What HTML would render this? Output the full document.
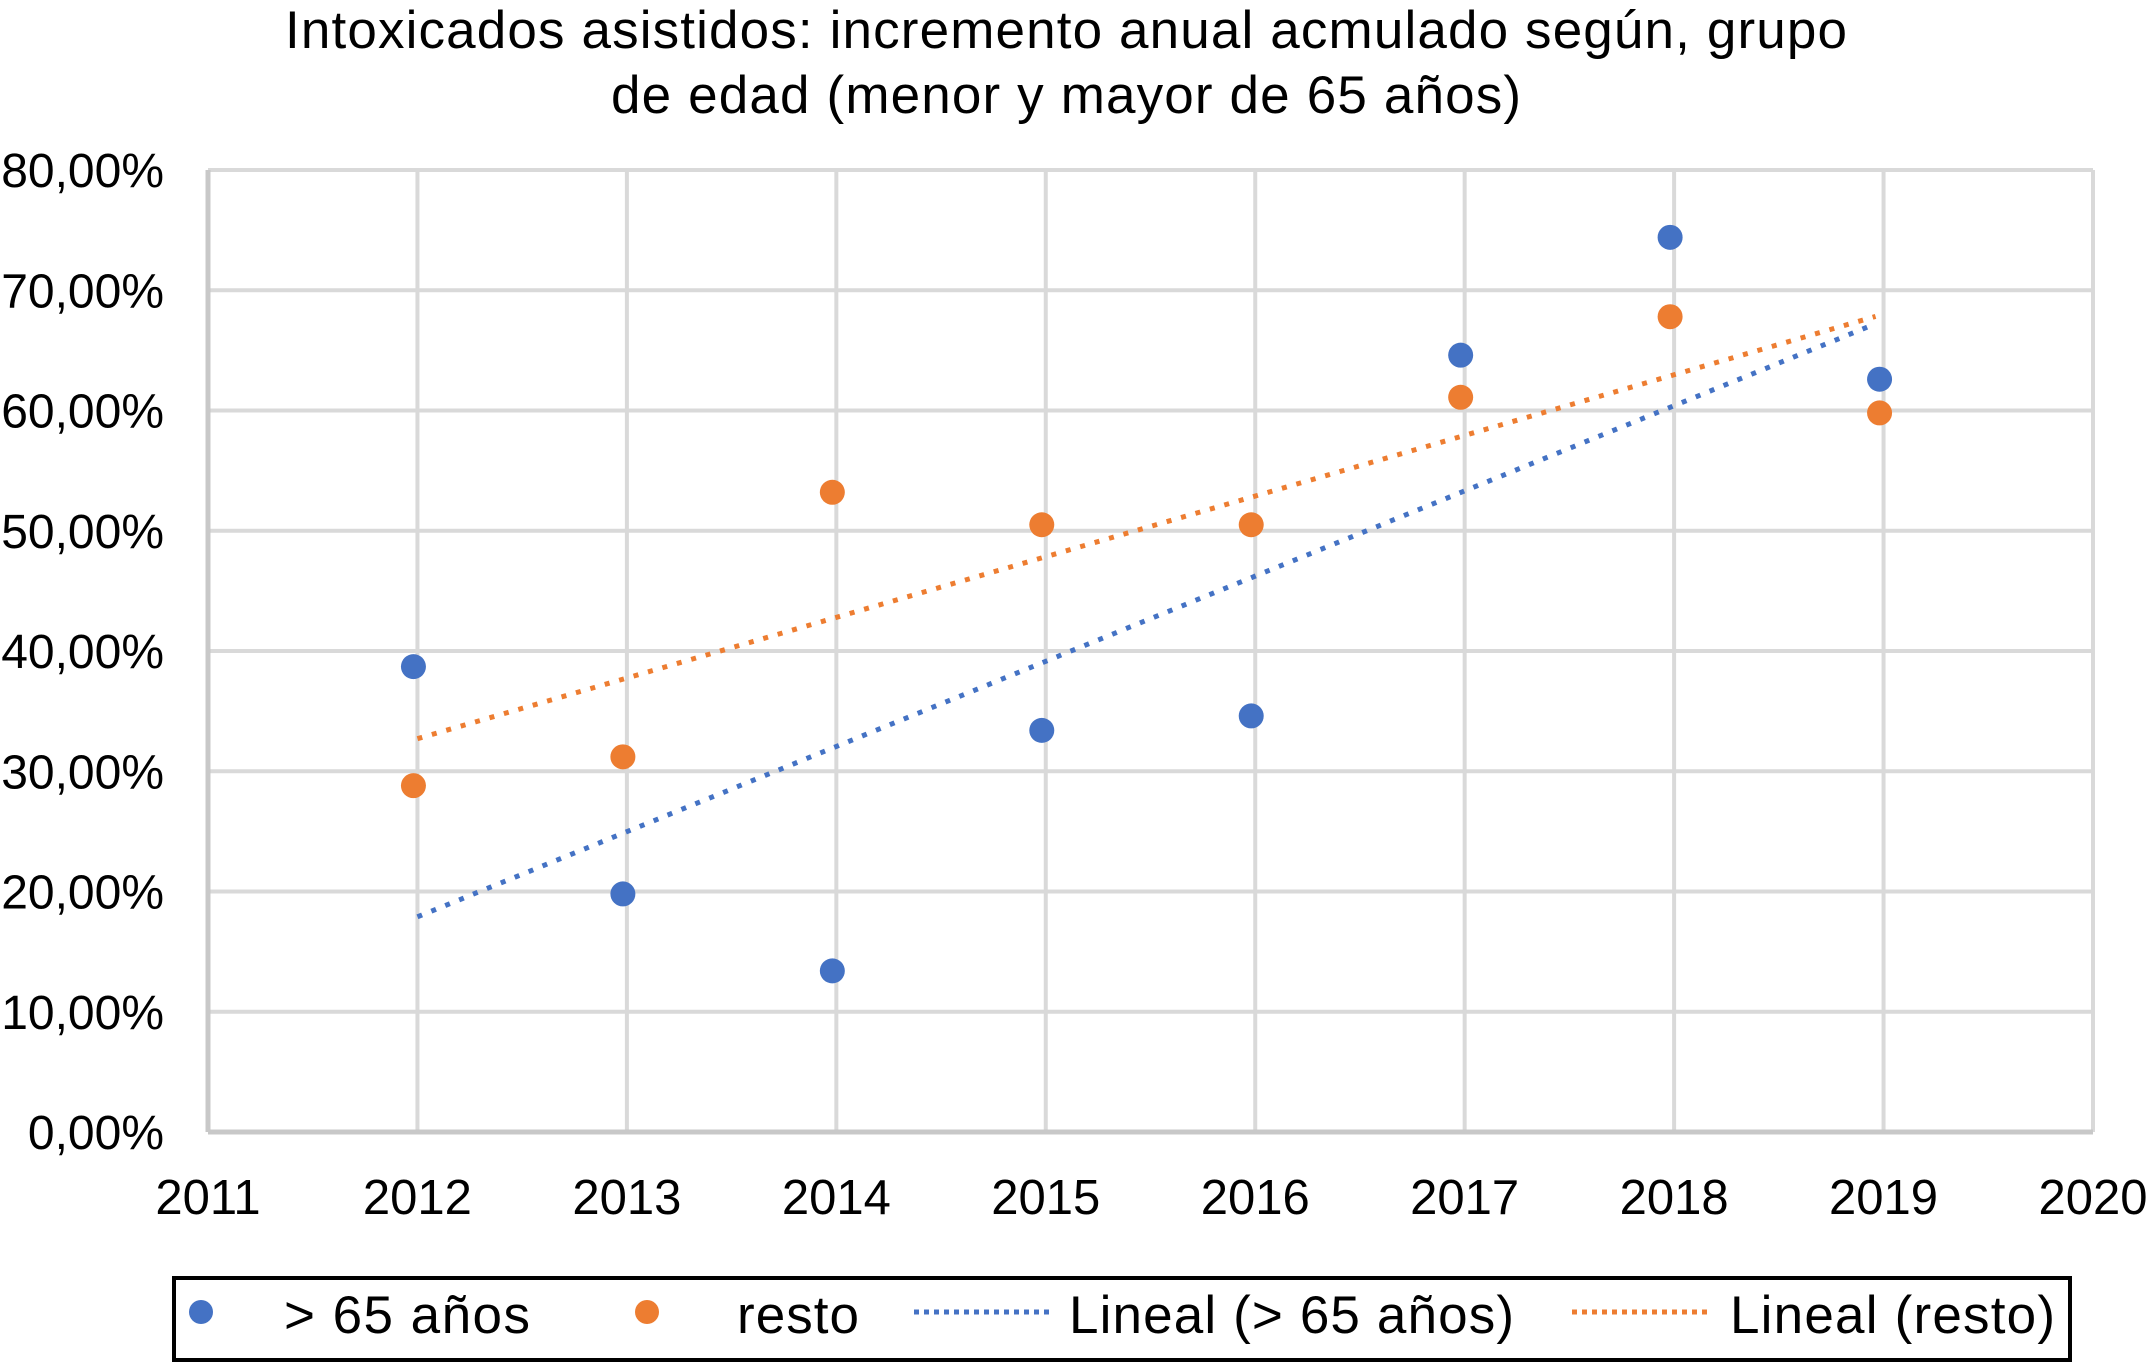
<!DOCTYPE html>
<html><head><meta charset="utf-8"><style>
html,body{margin:0;padding:0;background:#fff;}
svg{display:block;font-family:"Liberation Sans",Arial,sans-serif;}
</style></head><body>
<svg id="chart" width="2149" height="1362" viewBox="0 0 2149 1362">
<text x="1066" y="48" text-anchor="middle" font-size="53" textLength="1562" fill="#000">Intoxicados asistidos: incremento anual acmulado según, grupo</text>
<text x="1066" y="113" text-anchor="middle" font-size="53" textLength="910" fill="#000">de edad (menor y mayor de 65 años)</text>
<g id="grid"></g>
<g id="axes"></g>
<g id="trends"></g>
<g id="points"></g>
<rect x="174" y="1278" width="1896" height="82" fill="none" stroke="#000" stroke-width="4"/>
<g>
<circle cx="201" cy="1312" r="12" fill="#4472c4"/>
<text x="284" y="1333" font-size="53" textLength="246">&gt; 65 años</text></g>
<g>
<circle cx="647" cy="1312" r="12" fill="#ed7d31"/>
<text x="737" y="1333" font-size="53" textLength="122">resto</text></g>
<g>
<line x1="914" y1="1312" x2="1050" y2="1312" stroke="#4472c4" stroke-width="5" stroke-dasharray="5 5"/>
<text x="1069" y="1333" font-size="53" textLength="445">Lineal (&gt; 65 años)</text></g>
<g>
<line x1="1572" y1="1312" x2="1708" y2="1312" stroke="#ed7d31" stroke-width="5" stroke-dasharray="5 5"/>
<text x="1730" y="1333" font-size="53" textLength="325">Lineal (resto)</text></g>
</svg>
<script>
const years = [2012,2013,2014,2015,2016,2017,2018,2019];
const over65 = [38.7,19.8,13.4,33.4,34.6,64.6,74.4,62.6];
const resto = [28.8,31.2,53.2,50.5,50.5,61.1,67.8,59.8];
const xTicks = [2011,2012,2013,2014,2015,2016,2017,2018,2019,2020];
const yTicks = [0,10,20,30,40,50,60,70,80];
const yTickLabels = ["0,00%","10,00%","20,00%","30,00%","40,00%","50,00%","60,00%","70,00%","80,00%"];

const NS="http://www.w3.org/2000/svg";
const L=208,R=2093,T=170,B=1132;
function xs(v){return L+(v-2011)/(2020-2011)*(R-L);}
function ys(v){return B-(v/80)*(B-T);}
function mk(tag,attrs,parent){const e=document.createElementNS(NS,tag);for(const k in attrs)e.setAttribute(k,attrs[k]);parent.appendChild(e);return e;}
const grid=document.getElementById('grid'),axes=document.getElementById('axes'),trends=document.getElementById('trends'),pts=document.getElementById('points');
yTicks.forEach((t,i)=>{
  if(t>0){const g=mk('line',{x1:L,x2:R,y1:ys(t),y2:ys(t),stroke:'#d9d9d9','stroke-width':4},grid);
  
  }
  const lb=mk('text',{x:164,y:ys(t)+17,'text-anchor':'end','font-size':48},axes);
  lb.textContent=yTickLabels[i];
  
  
});
xTicks.forEach(t=>{
  if(t>2011){const g=mk('line',{x1:xs(t),x2:xs(t),y1:T,y2:B,stroke:'#d9d9d9','stroke-width':4},grid);
  
  }
  const lb=mk('text',{x:xs(t),y:1214,'text-anchor':'middle','font-size':49},axes);
  lb.textContent=t;
  
  
});
const ya=mk('line',{x1:L,x2:L,y1:T,y2:B,stroke:'#c8c8c8','stroke-width':5},axes);


const xa=mk('line',{x1:L,x2:R,y1:B,y2:B,stroke:'#c8c8c8','stroke-width':5},axes);


function fit(xv,yv){const n=xv.length;const mx=xv.reduce((a,b)=>a+b)/n,my=yv.reduce((a,b)=>a+b)/n;let sxy=0,sxx=0;for(let i=0;i<n;i++){sxy+=(xv[i]-mx)*(yv[i]-my);sxx+=(xv[i]-mx)**2;}const m=sxy/sxx;return x=>my+m*(x-mx);}
[[over65,'#4472c4','trendline-over65'],[resto,'#ed7d31','trendline-resto']].forEach(([d,c,n])=>{
  const f=fit(years,d);const x0=years[0],x1=years[years.length-1];
  const ln=mk('line',{x1:xs(x0),y1:ys(f(x0)),x2:xs(x1)-8,y2:ys(f(x1-8/((R-L)/9))),stroke:c,'stroke-width':5,'stroke-dasharray':'5 10'},trends);
  
  
});
[[over65,'#4472c4','point-over65'],[resto,'#ed7d31','point-resto']].forEach(([d,c,n])=>{
  d.forEach((v,i)=>{
    const p=mk('circle',{cx:xs(years[i])-4,cy:ys(v),r:12.5,fill:c},pts);
    
    
  });
});
</script>
</body></html>
